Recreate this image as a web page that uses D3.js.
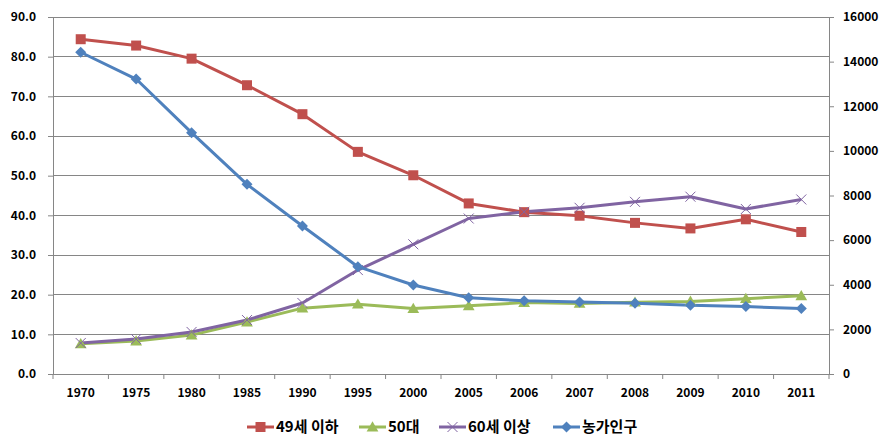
<!DOCTYPE html>
<html><head><meta charset="utf-8">
<script src="https://cdn.jsdelivr.net/npm/d3@7"></script>
<style>body{margin:0;background:#fff}svg{display:block}text{font-family:"Noto Sans CJK KR","Noto Sans",sans-serif;font-weight:bold;fill:#000}</style>
</head><body><svg id="c" width="889" height="447"></svg>
<script>
const years = ["1970","1975","1980","1985","1990","1995","2000","2005","2006","2007","2008","2009","2010","2011"];
const under49 = [84.4,82.8,79.5,72.8,65.5,56.0,50.1,43.0,40.8,39.9,38.1,36.7,39.0,35.8];
const fifties = [7.6,8.3,9.8,13.1,16.6,17.6,16.5,17.2,18.0,17.8,18.1,18.3,19.0,19.7];
const over60 = [7.8,8.8,10.6,13.6,17.9,26.2,32.7,39.2,40.9,41.9,43.4,44.7,41.6,44.0];
const farmPop = [14420,13220,10815,8500,6630,4810,3990,3420,3280,3230,3170,3080,3020,2930];
const leftTicks = [0,10,20,30,40,50,60,70,80,90];
const rightTicks = [0,2000,4000,6000,8000,10000,12000,14000,16000];
const seriesNames = ["49세 이하","50대","60세 이상","농가인구"];

const svg = d3.select("#c");
const L = 53, R = 829, T = 17, B = 374;
const x = d3.scaleBand().domain(years).range([L, R]);
const yL = d3.scaleLinear().domain([0, 90]).range([B, T]);
const yR = d3.scaleLinear().domain([0, 16000]).range([B, T]);

// gridlines
svg.append("g").selectAll("line").data(leftTicks.filter(d=>d>0)).join("line")
  .attr("x1", L).attr("x2", R).attr("y1", d=>yL(d)).attr("y2", d=>yL(d))
  .attr("stroke", "#868686").attr("stroke-width", 1).attr("shape-rendering","crispEdges");

// left axis
const gL = svg.append("g").attr("transform", `translate(${L},0)`)
  .call(d3.axisLeft(yL).tickValues(leftTicks).tickFormat(d3.format(".1f")).tickSize(5).tickPadding(12));
// right axis
const gR = svg.append("g").attr("transform", `translate(${R},0)`)
  .call(d3.axisRight(yR).tickValues(rightTicks).tickFormat(d3.format("d")).tickSize(5).tickPadding(9));
// bottom axis
const gB = svg.append("g").attr("transform", `translate(0,${B})`)
  .call(d3.axisBottom(x).tickSize(0).tickPadding(14));
gB.append("g").selectAll("line").data(d3.range(years.length+1)).join("line")
  .attr("x1", i=>L + i*x.step()).attr("x2", i=>L + i*x.step()).attr("y1",0).attr("y2",5)
  .attr("stroke","#868686");
[gL,gR,gB].forEach(g=>{
  g.selectAll("path.domain").attr("stroke","#868686").attr("shape-rendering","crispEdges");
  g.selectAll(".tick line").attr("stroke","#868686");
  g.selectAll("text").attr("font-size","12px").attr("font-weight","bold").style("font-family",'"Noto Sans CJK KR","Noto Sans",sans-serif').attr("fill","#000");
});
gB.select("path.domain").attr("d", `M${L},0.5H${R}`);

const cx = d => x(d) + x.bandwidth()/2;
const colors = ["#C0504D","#9BBB59","#8064A2","#4F81BD"];
const series = [
  {vals: under49, y: yL, c: colors[0], m: "square"},
  {vals: fifties, y: yL, c: colors[1], m: "triangle"},
  {vals: over60, y: yL, c: colors[2], m: "x"},
  {vals: farmPop, y: yR, c: colors[3], m: "diamond"}
];
function marker(g, type, c, px, py) {
  if (type === "square") g.append("rect").attr("x", px-5).attr("y", py-5).attr("width",10).attr("height",10).attr("fill", c);
  else if (type === "triangle") g.append("path").attr("d", d3.symbol(d3.symbolTriangle, 60)()).attr("transform",`translate(${px},${py+1})`).attr("fill", c);
  else if (type === "diamond") g.append("path").attr("d", `M0,-5.5L5.5,0L0,5.5L-5.5,0Z`).attr("transform",`translate(${px},${py})`).attr("fill", c);
  else if (type === "x") g.append("path").attr("d", "M-5,-5L5,5M-5,5L5,-5").attr("transform",`translate(${px},${py})`).attr("stroke", c).attr("stroke-width",1).attr("fill","none");
}
series.forEach(s => {
  const line = d3.line().x((d,i)=>cx(years[i])).y(d=>s.y(d));
  svg.append("path").datum(s.vals).attr("d", line).attr("fill","none").attr("stroke", s.c).attr("stroke-width",3).attr("stroke-linejoin","round");
});
series.forEach(s => {
  const g = svg.append("g");
  s.vals.forEach((v,i)=> marker(g, s.m, s.c, cx(years[i]), s.y(v)));
});

// legend
const legX = [247, 359, 439, 553];
const legY = 427;
const lg = svg.append("g");
series.forEach((s,i)=>{
  lg.append("line").attr("x1", legX[i]).attr("x2", legX[i]+27).attr("y1", legY).attr("y2", legY).attr("stroke", s.c).attr("stroke-width",3);
  marker(lg, s.m, s.c, legX[i]+13.5, legY);
  lg.append("text").attr("x", legX[i]+29).attr("y", legY).attr("dy","0.36em").attr("font-size","15px").text(seriesNames[i]);
});
</script></body></html>
